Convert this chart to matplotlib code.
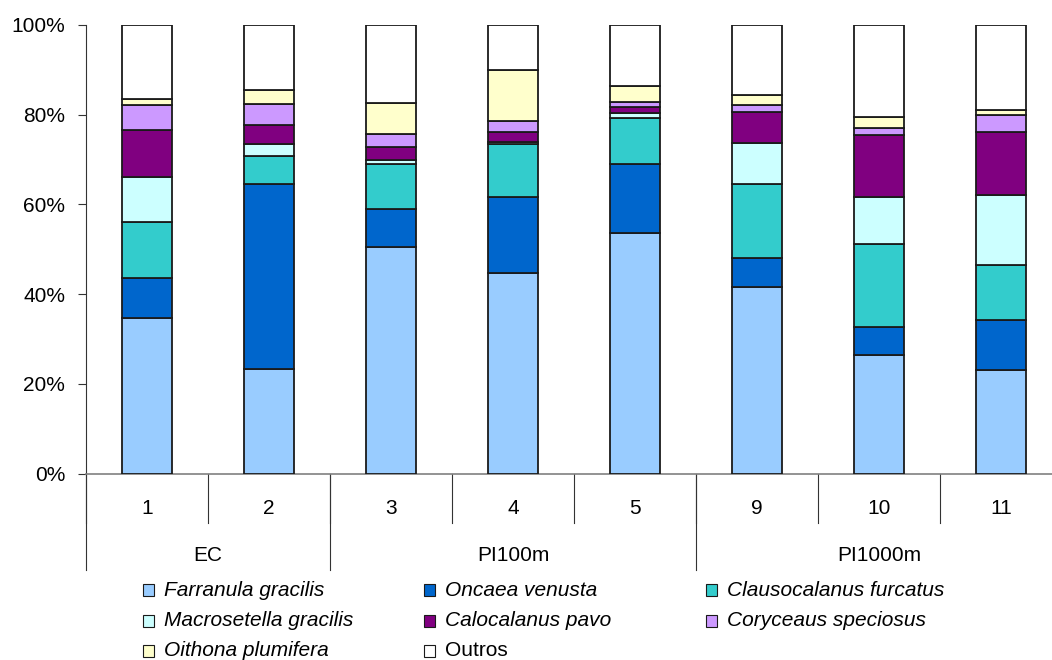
import matplotlib
matplotlib.use("Agg")
import matplotlib.pyplot as plt
import matplotlib.transforms as mtransforms
from matplotlib.patches import Rectangle
import numpy as np

plt.rcParams['font.family'] = ['Liberation Sans', 'DejaVu Sans']

samples = ['1', '2', '3', '4', '5', '9', '10', '11']
groups = ['EC', 'PI100m', 'PI1000m']
group_sizes = [2, 3, 3]

species = ['Farranula gracilis', 'Oncaea venusta', 'Clausocalanus furcatus',
           'Macrosetella gracilis', 'Calocalanus pavo', 'Coryceaus speciosus',
           'Oithona plumifera', 'Outros']
italic = [True, True, True, True, True, True, True, False]
colors = ['#99CCFF', '#0066CC', '#33CCCC', '#CCFFFF', '#800080', '#CC99FF',
          '#FFFFCC', '#FFFFFF']

# percentages per sample (1, 2, 3, 4, 5, 9, 10, 11)
farranula     = [34.6, 23.4, 50.4, 44.8, 53.6, 41.5, 26.5, 23.0]
oncaea        = [ 8.9, 41.1,  8.5, 16.8, 15.3,  6.5,  6.2, 11.3]
clausocalanus = [12.5,  6.4, 10.0, 11.8, 10.4, 16.5, 18.5, 12.2]
macrosetella  = [10.1,  2.5,  1.1,  0.6,  1.1,  9.3, 10.4, 15.6]
calocalanus   = [10.4,  4.4,  2.9,  2.2,  1.3,  6.8, 13.8, 14.1]
coryceaus     = [ 5.7,  4.5,  2.9,  2.4,  1.1,  1.6,  1.6,  3.7]
oithona       = [ 1.2,  3.1,  6.7, 11.3,  3.5,  2.1,  2.4,  1.1]
outros        = [16.6, 14.6, 17.5, 10.1, 13.7, 15.7, 20.6, 19.0]

series = [farranula, oncaea, clausocalanus, macrosetella, calocalanus,
          coryceaus, oithona, outros]

FS = 15
W, H = 1052, 660
fig = plt.figure(figsize=(W / 100, H / 100), dpi=100)
ax_left, ax_right, ax_top, ax_bot = 86, 1062, 25, 473.5
ax = fig.add_axes([ax_left / W, 1 - ax_bot / H, (ax_right - ax_left) / W,
                   (ax_bot - ax_top) / H])

data = np.array(series, dtype=float)
data = data / data.sum(axis=0) * 100
x = np.arange(len(samples))
bottom = np.zeros(len(samples))
for vals, c in zip(data, colors):
    ax.bar(x, vals, 0.41, bottom=bottom, color=c, edgecolor='#1a1a1a',
           linewidth=1.3, zorder=3)
    bottom += vals

ax.set_xlim(-0.5, len(samples) - 0.5)
ax.set_ylim(0, 100)
ax.set_yticks(np.arange(0, 101, 20))
ax.set_yticklabels(['%d%%' % v for v in range(0, 101, 20)])
ax.tick_params(axis='y', direction='out', length=6, width=0.8, pad=9,
               labelsize=FS, color='#333333')
ax.set_xticks([])
for s in ['top', 'right']:
    ax.spines[s].set_visible(False)
ax.spines['left'].set_color('#333333')
ax.spines['left'].set_linewidth(0.8)
ax.spines['bottom'].set_color('#808080')
ax.spines['bottom'].set_linewidth(1.2)

# category axis with sample and group levels
ah = ax_bot - ax_top
trans = mtransforms.blended_transform_factory(ax.transData, ax.transAxes)
short = -49 / ah
long_ = -96 / ah
for i in range(len(samples) + 1):
    ax.plot([i - 0.5, i - 0.5], [0, short], color='#333333', lw=0.8,
            transform=trans, clip_on=False)
for i, s in enumerate(samples):
    ax.text(i, -35 / ah, s, transform=trans, ha='center', va='center',
            fontsize=FS)
start = 0
for g, n in zip(groups, group_sizes):
    ax.plot([start - 0.5, start - 0.5], [0, long_], color='#333333', lw=0.8,
            transform=trans, clip_on=False)
    ax.text(start + (n - 1) / 2, -82 / ah, g, transform=trans, ha='center',
            va='center', fontsize=FS)
    start += n
ax.plot([start - 0.5, start - 0.5], [0, long_], color='#333333', lw=0.8,
        transform=trans, clip_on=False)

# legend
col_x = [143, 424, 706]
row_y = [590, 621, 651]
for k, (name, c) in enumerate(zip(species, colors)):
    r, cidx = divmod(k, 3)
    px, py = col_x[cidx], row_y[r]
    fig.add_artist(Rectangle((px / W, 1 - (py + 6) / H), 11 / W, 12 / H,
                             facecolor=c, edgecolor='#1a1a1a', lw=0.8,
                             transform=fig.transFigure))
    fig.text((px + 21) / W, 1 - py / H, name, ha='left', va='center',
             fontsize=FS, style='italic' if italic[k] else 'normal')

fig.savefig('out.png', dpi=100)
